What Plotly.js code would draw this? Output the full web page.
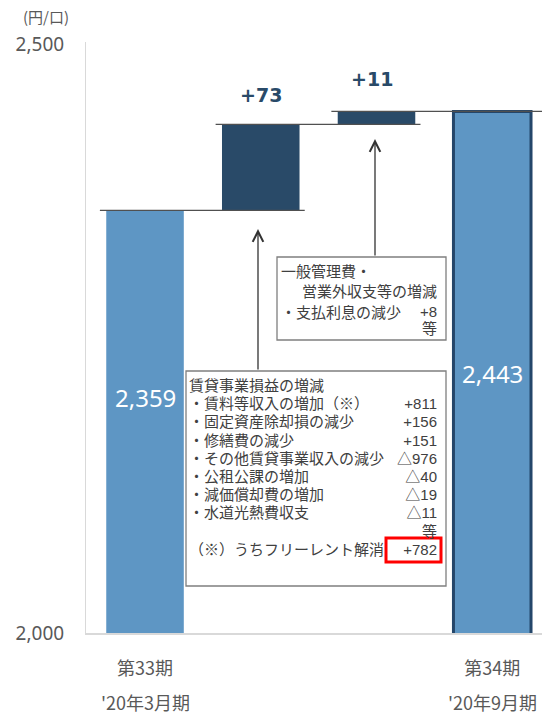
<!DOCTYPE html>
<html>
<head>
<meta charset="utf-8">
<script src="https://cdn.plot.ly/plotly-3.0.1.min.js"></script>
<style>html,body{margin:0;padding:0;background:#fff;}#chart{width:542px;height:716px;}</style>
</head>
<body>
<div id="chart"></div>
<script>
// ---- data ----
const periodLabels = ["第33期", "", "", "第34期"];
const dateLabels = ["'20年3月期", "", "", "'20年9月期"];
const startValue = 2359;
const changes = [73, 11];
const endValue = 2443;
const yTicks = [2000, 2500];
const yTickText = ["2,000", "2,500"];
const box1Lines = ["一般管理費・", "　営業外収支等の増減", "・支払利息の減少"];
const box1Value = "+8";
const box2Title = "賃貸事業損益の増減";
const box2Items = ["・賃料等収入の増加（※）", "・固定資産除却損の減少", "・修繕費の減少", "・その他賃貸事業収入の減少", "・公租公課の増加", "・減価償却費の増加", "・水道光熱費収支"];
const box2Values = ["+811", "+156", "+151", "△976", "△40", "△19", "△11"];
const freeRentLabel = "（※）うちフリーレント解消";
const freeRentValue = "+782";

// ---- layout helpers (pixel -> paper) ----
const L = 86, R = 0, T = 42, B = 83, W = 542, H = 716;
const PW = W - L - R, PH = H - T - B;
const px = x => (x - L) / PW;
const py = y => (H - B - y) / PH;

const LIGHT = "#5E96C4", DARK = "#294A68", TXT = "#404040";
const FONT = "Noto Sans CJK JP, Noto Sans, sans-serif";
const BOXFONT = "Liberation Sans, Noto Sans CJK JP, sans-serif";
const big = s => '<span style="font-size:15px">' + s + '</span>';

// bars built from data
const xs = [0, 1, 2, 3];
let cum = startValue;
const bases = [0];
const heights = [startValue];
changes.forEach(c => { bases.push(cum); heights.push(c); cum += c; });
bases.push(0); heights.push(endValue);
const tops = bases.map((b, i) => b + heights[i]);

const bar = {
  type: "bar", x: xs, y: heights, base: bases, width: 0.67,
  marker: {
    color: [LIGHT, DARK, DARK, LIGHT],
    line: {color: ["rgba(0,0,0,0)", DARK, DARK, "#24466A"], width: [0, 0, 0, 3]}
  },
  hoverinfo: "skip"
};

const shapes = [];
// connector lines
const levels = [startValue, startValue + changes[0], endValue];
levels.forEach((lv, i) => {
  shapes.push({type: "line", xref: "x", yref: "y", x0: i - 0.39, x1: i === 2 ? 3.45 : i + 1 + 0.38, y0: lv, y1: lv,
    line: {color: "#505050", width: 1.2}});
});
// boxes
shapes.push({type: "rect", xref: "paper", yref: "paper", x0: px(277), x1: px(446), y0: py(257), y1: py(340),
  line: {color: "#7f7f7f", width: 1.3}, fillcolor: "#ffffff"});
shapes.push({type: "rect", xref: "paper", yref: "paper", x0: px(186), x1: px(446), y0: py(371), y1: py(586),
  line: {color: "#7f7f7f", width: 1.3}, fillcolor: "#ffffff"});
shapes.push({type: "rect", xref: "paper", yref: "paper", x0: px(386), x1: px(441), y0: py(538), y1: py(562),
  line: {color: "#ff0000", width: 3}, layer: "above"});

const ann = [];
const t = (x, y, text, opts) => Object.assign({xref: "paper", yref: "paper", x: px(x), y: py(y), text: text,
  showarrow: false, xanchor: "left", yanchor: "middle", borderpad: 0,
  font: {family: BOXFONT, size: 14, color: TXT}}, opts || {});

// y unit
ann.push(t(46, 17, "(円/口)", {xanchor: "center", font: {family: FONT, size: 15, color: "#595959"}}));
// date labels under ticks
dateLabels.forEach((d, i) => {
  if (d) ann.push({xref: "x", yref: "paper", x: xs[i], y: py(702), text: d, showarrow: false, yanchor: "middle",
    font: {family: FONT, size: 18, color: "#595959"}});
});
// value labels in bars
[0, 3].forEach(i => {
  ann.push({xref: "x", yref: "paper", x: xs[i], y: py(i === 0 ? 397 : 373),
    text: heights[i].toLocaleString("en-US"), showarrow: false,
    font: {family: "Noto Sans, sans-serif", size: 24, color: "#ffffff"}});
});
// change labels
changes.forEach((c, k) => {
  const i = k + 1;
  ann.push({xref: "x", yref: "y", x: xs[i] - (k === 1 ? 0.04 : 0), y: tops[i], yanchor: "bottom", yshift: k === 0 ? 16 : 19,
    text: "<b>+" + c + "</b>", showarrow: false,
    font: {family: "DejaVu Sans, sans-serif", size: 19, color: DARK}});
});
// arrows
ann.push({xref: "paper", yref: "paper", x: px(258), y: py(229), ax: px(258), ay: py(371), axref: "paper", ayref: "paper",
  text: "", showarrow: true, arrowhead: 5, arrowsize: 1.6, arrowwidth: 1.3, arrowcolor: "#333333", standoff: 0});
ann.push({xref: "paper", yref: "paper", x: px(375), y: py(139), ax: px(375), ay: py(257), axref: "paper", ayref: "paper",
  text: "", showarrow: true, arrowhead: 5, arrowsize: 1.6, arrowwidth: 1.3, arrowcolor: "#333333", standoff: 0});
// box 1 text
ann.push(t(280, 271, big(box1Lines[0])));
ann.push(t(286, 291.5, big(box1Lines[1])));
ann.push(t(280, 312, big(box1Lines[2])));
ann.push(t(438, 319.5, big(box1Value) + "<br>" + big("等"), {xanchor: "right", align: "right",
  font: {family: BOXFONT, size: 13, color: TXT}}));
// box 2 text
const leftLines = [box2Title].concat(box2Items, [" ", freeRentLabel]).map(big);
ann.push(t(188, 468, leftLines.join("<br>"), {align: "left"}));
const rightLines = [" "].concat(box2Values, ["等", freeRentValue]).map(big);
ann.push(t(438, 468, rightLines.join("<br>"), {xanchor: "right", align: "right"}));

const layout = {
  width: W, height: H,
  margin: {l: L, r: R, t: T, b: B, pad: 0},
  paper_bgcolor: "#ffffff", plot_bgcolor: "#ffffff",
  showlegend: false,
  xaxis: {range: [-0.51, 3.43], tickvals: xs, ticktext: periodLabels, showgrid: false, zeroline: false,
    showline: true, linecolor: "#d9d9d9", linewidth: 1.5, ticks: "", ticklabelstandoff: 19,
    tickfont: {family: FONT, size: 18, color: "#595959"}, fixedrange: true},
  yaxis: {range: [2000, 2502], tickvals: yTicks, ticktext: yTickText, showgrid: false, zeroline: false,
    showline: true, linecolor: "#d9d9d9", linewidth: 1, ticks: "", ticklabelstandoff: 17,
    tickfont: {family: "Noto Sans, sans-serif", size: 19, color: "#595959"}, fixedrange: true},
  shapes: shapes,
  annotations: ann
};

Plotly.newPlot("chart", [bar], layout, {staticPlot: true, displayModeBar: false});
</script>
</body>
</html>
